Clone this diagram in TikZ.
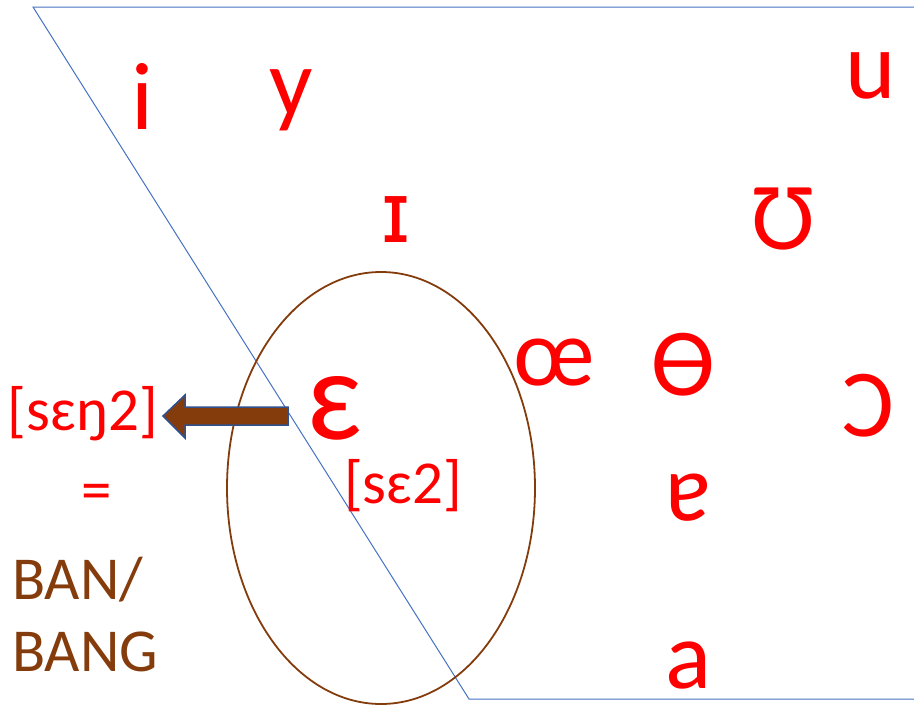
\documentclass[tikz,border=0pt]{standalone}
\usepackage{fontspec}
\setmainfont{Carlito}
\newfontfamily\dvfont{DejaVu Sans}
\definecolor{lineblue}{RGB}{68,114,196}
\definecolor{brownc}{RGB}{132,60,12}
\definecolor{edgeblue}{RGB}{47,82,143}
\tikzset{
  vowel/.style={text=red, inner sep=0pt, font=\fontsize{96}{100}\selectfont},
  trans/.style={text=red, inner sep=0pt, font=\fontsize{61}{64}\selectfont},
  word/.style={text=brownc, inner sep=0pt, anchor=west, font=\fontsize{61}{64}\selectfont},
  chart/.style={draw=lineblue, line width=1pt},
}
\begin{document}
\begin{tikzpicture}[x=1pt,y=-1pt]
\useasboundingbox (0,0) rectangle (914,707);
\coordinate (tl) at (33,7);
\coordinate (tr) at (914,7);
\coordinate (bl) at (469,699);
\coordinate (br) at (914,699);
\draw[chart] (tr) -- (tl) -- (bl) -- (br);
\draw[brownc, line width=1.8pt] (381,488) ellipse [x radius=154, y radius=216];
\node[vowel] (i) at (143,96) {i};
\node[vowel] (y) at (291,100) {y};
\node[vowel] (u) at (871,76) {u};
\node[vowel, font=\dvfont\fontsize{84}{88}\selectfont] (I) at (396,220) {ɪ};
\node[vowel] (U) at (783,219) {Ʊ};
\node[vowel] (oe) at (554,363) {œ};
\node[vowel] (bo) at (683,365) {Ɵ};
\node[vowel] (oo) at (868,406) {Ɔ};
\node[vowel, font=\fontsize{130}{134}\selectfont] (eps) at (335,408) {ɛ};
\node[vowel] (turna) at (688,498) {ɐ};
\node[vowel] (a) at (688,666) {a};
\node[trans] (se) at (403,486) {[sɛ2]};
\node[trans] (seng) at (83,414) {[sɛŋ2]};
\node[trans] (eq) at (97,497) {=};
\node[word] (ban) at (12,580) {BAN/};
\node[word] (bang) at (12,652) {BANG};
\draw[fill=brownc, draw=edgeblue, line width=1.5pt, line join=miter]
  (288,407) -- (185,407) -- (185,395) -- (163,416) -- (185,438) -- (185,425) -- (288,425) -- cycle;
\end{tikzpicture}
\end{document}
